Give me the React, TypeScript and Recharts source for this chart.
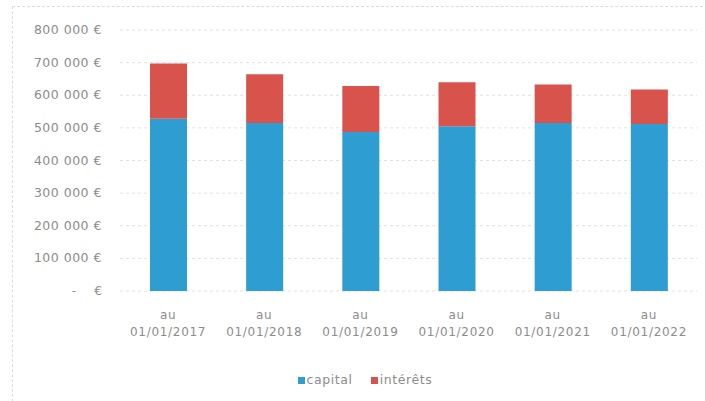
import { BarChart, Bar, XAxis, YAxis, CartesianGrid, Legend } from 'recharts';

const dates = ['au 01/01/2017', 'au 01/01/2018', 'au 01/01/2019', 'au 01/01/2020', 'au 01/01/2021', 'au 01/01/2022'];
const capital = [528000, 515000, 487000, 505000, 515000, 512000];
const interets = [169000, 149000, 141000, 135000, 118000, 106000];
const yTicks = [0, 100000, 200000, 300000, 400000, 500000, 600000, 700000, 800000];

const data = dates.map((d, i) => ({ date: d, capital: capital[i], interets: interets[i] }));

const FONT = '"DejaVu Sans", sans-serif';
const TEXT = '#8c8c8c';

const fmtEuro = (v: number) => {
  const s = String(v).replace(/\B(?=(\d{3})+(?!\d))/g, ' ');
  return `${s} €`;
};

const YTick = ({ x, y, payload }: any) => {
  if (payload.value === 0) {
    return (
      <g>
        <text x={x - 36} y={y + 4} fill={TEXT} fontSize={12} fontFamily={FONT} textAnchor="end">-</text>
        <text x={x - 10} y={y + 4} fill={TEXT} fontSize={12} fontFamily={FONT} textAnchor="end">€</text>
      </g>
    );
  }
  return (
    <text x={x - 10} y={y + 4} fill={TEXT} fontSize={12.5} fontFamily={FONT} textAnchor="end" letterSpacing={0.5}>
      {fmtEuro(payload.value)}
    </text>
  );
};

const XTick = ({ x, y, payload }: any) => {
  const [first, ...rest] = String(payload.value).split(' ');
  return (
    <text x={x} y={y} fill={TEXT} fontSize={12} fontFamily={FONT} textAnchor="middle" letterSpacing={0.7}>
      <tspan x={x} dy={20}>{first}</tspan>
      <tspan x={x} dy={17}>{rest.join(' ')}</tspan>
    </text>
  );
};

export default function App() {
  return (
    <div style={{ position: 'absolute', left: 0, top: 0, width: 705, height: 401, background: '#fff' }}>
      <div
        style={{
          position: 'absolute',
          left: 12,
          top: 6,
          width: 700,
          height: 400,
          borderLeft: '1px dashed #dcdcdc',
          borderTop: '1px dashed #dcdcdc',
        }}
      />
      <BarChart
        width={705}
        height={401}
        data={data}
        barSize={37}
        margin={{ top: 30, right: 8, left: 0, bottom: 0 }}
      >
        <CartesianGrid vertical={false} stroke="#e2e2d8" strokeDasharray="3 3" />
        <XAxis
          dataKey="date"
          axisLine={false}
          tickLine={false}
          interval={0}
          height={62}
          tick={<XTick />}
        />
        <YAxis
          domain={[0, 800000]}
          ticks={yTicks}
          width={120}
          axisLine={false}
          tickLine={false}
          tick={<YTick />}
        />
        <Legend
          verticalAlign="bottom"
          height={48}
          iconType="square"
          iconSize={7}
          wrapperStyle={{
            left: 284,
            width: 180,
            top: 372,
            fontFamily: FONT,
            fontSize: 12.5,
            color: TEXT,
          }}
          formatter={(value: string) => (
            <span style={{ color: TEXT, marginLeft: -2, marginRight: 8, letterSpacing: 0.6 }}>{value}</span>
          )}
        />
        <Bar dataKey="capital" name="capital" stackId="a" fill="#2d9dd2" isAnimationActive={false} />
        <Bar dataKey="interets" name="intérêts" stackId="a" fill="#d9534d" isAnimationActive={false} />
      </BarChart>
    </div>
  );
}
